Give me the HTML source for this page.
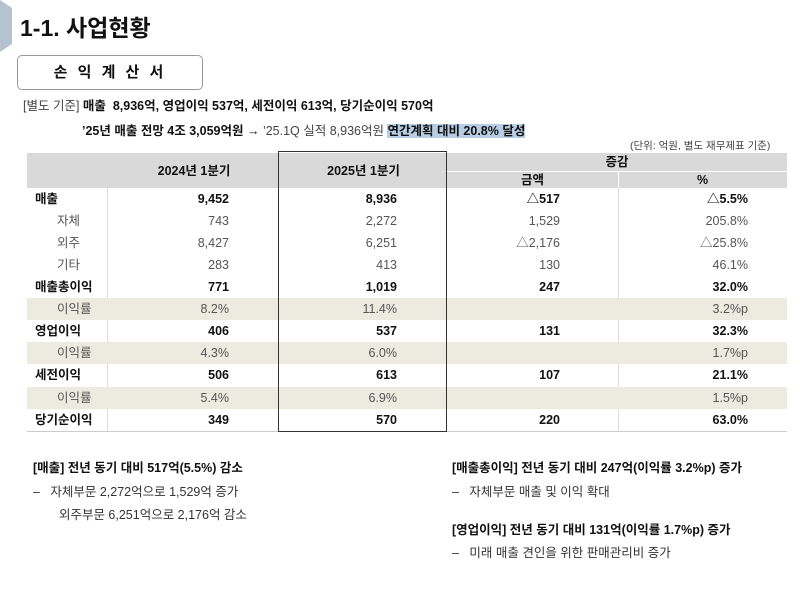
<!DOCTYPE html>
<html><head><meta charset="utf-8"><style>
body{margin:0;width:800px;height:592px;background:#fff;font-family:"Liberation Sans","Noto Sans CJK KR",sans-serif;position:relative;overflow:hidden;color:#111}
.a{position:absolute;white-space:nowrap;line-height:16px}
.r{position:absolute;left:27px;width:760px;height:22px}
.c{position:absolute;top:0;line-height:22px;font-size:12.5px;white-space:nowrap}
.b{font-weight:bold;color:#111}
.g{color:#555}
</style></head><body>
<svg class="a" style="left:0;top:0" width="14" height="56"><polygon points="0,0 12,8 12,44 0,52" fill="#b5c3d1"/></svg>
<div class="a" style="left:20px;top:14px;font-size:23px;line-height:28px;font-weight:bold">1-1. 사업현황</div>
<div class="a" style="left:17px;top:55px;width:184px;height:33px;border:1.5px solid #999;border-radius:5px;text-align:center;line-height:33px;font-size:15px;font-weight:bold;letter-spacing:3px">손 익 계 산 서</div>
<div class="a" style="left:23px;top:98px;font-size:12.5px"><span style="color:#444">[별도 기준]</span> <b>매출&nbsp; 8,936억, 영업이익 537억, 세전이익 613억, 당기순이익 570억</b></div>
<div class="a" style="left:82px;top:123px;font-size:12.5px"><b>’25년 매출 전망 4조 3,059억원 → </b><span style="color:#444">’25.1Q 실적 8,936억원 </span><b style="background:#b7cde3">연간계획 대비 20.8% 달성</b></div>
<div class="a" style="left:630px;top:138px;font-size:10.5px;color:#444">(단위: 억원, 별도 재무제표 기준)</div>
<div class="a" style="left:27px;top:153px;width:760px;height:35px;background:#d9d9d9"></div>
<div class="a" style="left:447px;top:171px;width:340px;height:1px;background:#fff"></div>
<div class="a" style="left:618px;top:171px;width:1px;height:17px;background:#fff"></div>
<div class="a" style="left:107px;top:188px;width:1px;height:243px;background:#ddd"></div>
<div class="a" style="left:618px;top:188px;width:1px;height:243px;background:#ddd"></div>
<div class="a" style="left:27px;top:431px;width:760px;height:1px;background:#ccc"></div>
<div class="a" style="left:108px;top:163px;width:172px;text-align:center;font-size:12.5px;font-weight:bold">2024년 1분기</div>
<div class="a" style="left:280px;top:163px;width:167px;text-align:center;font-size:12.5px;font-weight:bold">2025년 1분기</div>
<div class="a" style="left:447px;top:154px;width:340px;text-align:center;font-size:12.5px;font-weight:bold">증감</div>
<div class="a" style="left:447px;top:172px;width:171px;text-align:center;font-size:12.5px;font-weight:bold">금액</div>
<div class="a" style="left:618px;top:172px;width:169px;text-align:center;font-size:12.5px;font-weight:bold">%</div>

<div class="r" style="top:298px;background:#edeadf"></div>
<div class="r" style="top:342px;background:#edeadf"></div>
<div class="r" style="top:387px;background:#edeadf"></div>

<div id="rows"></div>
<div class="a" style="left:278px;top:151px;width:167px;height:279px;border:1.5px solid #333"></div>

<div class="a" style="left:33px;top:460px;font-size:12.5px"><b>[매출] 전년 동기 대비 517억(5.5%) 감소</b></div>
<div class="a" style="left:33px;top:484px;font-size:12.5px;color:#333">–&nbsp;&nbsp; 자체부문 2,272억으로 1,529억 증가</div>
<div class="a" style="left:52px;top:507px;font-size:12.5px;color:#333">&nbsp;&nbsp;외주부문 6,251억으로 2,176억 감소</div>
<div class="a" style="left:452px;top:460px;font-size:12.5px"><b>[매출총이익] 전년 동기 대비 247억(이익률 3.2%p) 증가</b></div>
<div class="a" style="left:452px;top:484px;font-size:12.5px;color:#333">–&nbsp;&nbsp; 자체부문 매출 및 이익 확대</div>
<div class="a" style="left:452px;top:522px;font-size:12.5px"><b>[영업이익] 전년 동기 대비 131억(이익률 1.7%p) 증가</b></div>
<div class="a" style="left:452px;top:545px;font-size:12.5px;color:#333">–&nbsp;&nbsp; 미래 매출 견인을 위한 판매관리비 증가</div>
<script>
var d=[["매출","9,452","8,936","△517","△5.5%",1,188],
["자체","743","2,272","1,529","205.8%",0,210],
["외주","8,427","6,251","△2,176","△25.8%",0,232],
["기타","283","413","130","46.1%",0,254],
["매출총이익","771","1,019","247","32.0%",1,276],
["이익률","8.2%","11.4%","","3.2%p",0,298],
["영업이익","406","537","131","32.3%",1,320],
["이익률","4.3%","6.0%","","1.7%p",0,342],
["세전이익","506","613","107","21.1%",1,364],
["이익률","5.4%","6.9%","","1.5%p",0,387],
["당기순이익","349","570","220","63.0%",1,409]];
var h="";
d.forEach(function(r){var cl=r[5]?"b":"g";var lx=r[5]?35:57;
h+='<div class="r" style="top:'+r[6]+'px">';
h+='<div class="c '+cl+'" style="left:'+(lx-27)+'px">'+r[0]+'</div>';
var ends=[229,397,560,748];
for(var i=0;i<4;i++){h+='<div class="c '+cl+'" style="right:'+(787-ends[i])+'px">'+r[i+1]+'</div>';}
h+='</div>';});
document.getElementById("rows").innerHTML=h;
</script>
</body></html>
